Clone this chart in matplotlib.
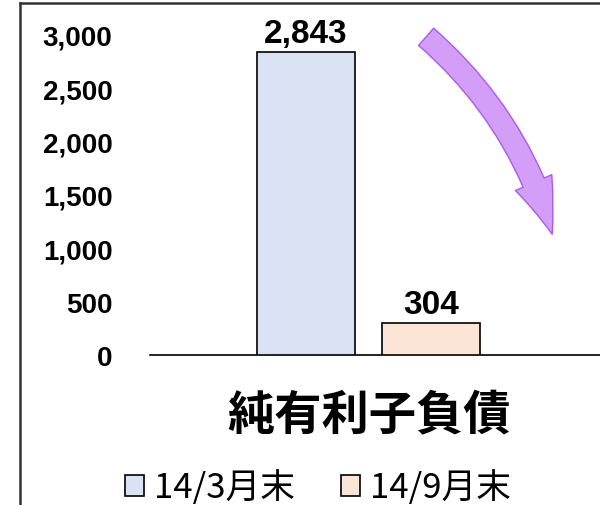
import matplotlib
matplotlib.use("Agg")
import matplotlib.pyplot as plt
from matplotlib.lines import Line2D
from matplotlib.patches import FancyArrowPatch

plt.rcParams['font.family'] = ['Noto Sans CJK JP', 'DejaVu Sans']

category = "純有利子負債"
series = ["14/3月末", "14/9月末"]
values = [2843, 304]
colors = ["#DAE3F3", "#FBE5D6"]
yticks = [0, 500, 1000, 1500, 2000, 2500, 3000]

W, H = 600, 506
fig = plt.figure(figsize=(W / 100, H / 100), dpi=100)
ax = fig.add_axes([150 / W, (H - 356) / H, 450 / W, 320 / H])

offsets = [-0.5, 0.5]
for i, (name, v) in enumerate(zip(series, values)):
    ax.bar(offsets[i], v, width=0.784, color=colors[i], edgecolor="black",
           linewidth=1.2, label=name, zorder=3)
    ax.annotate(f"{v:,}", (offsets[i], v), xytext=(0, 2), textcoords="offset points",
                ha="center", va="bottom", fontsize=24, fontweight="bold",
                family=["Liberation Sans", "DejaVu Sans"], clip_on=False)

ax.set_xlim(-1.748, 1.852)
ax.set_ylim(0, 3000)
ax.set_yticks(yticks)
ax.set_yticklabels([f"{t:,}" for t in yticks], family=["Liberation Sans", "DejaVu Sans"],
                   fontsize=20, fontweight="bold")
ax.set_xticks([0])
ax.set_xticklabels([category], fontsize=34, fontweight="bold")
ax.tick_params(axis="y", length=0, pad=27)
ax.tick_params(axis="x", length=0, pad=26)
for s in ["left", "right", "top"]:
    ax.spines[s].set_visible(False)
ax.spines["bottom"].set_linewidth(1.2)

leg = fig.legend(loc="center", bbox_to_anchor=(318 / W, 1 - 489 / H), ncol=2, frameon=False,
                 fontsize=25, handlelength=0.55, handleheight=0.55, handletextpad=0.3,
                 columnspacing=1.3)

# page frame (left and top edges)
fig.add_artist(Line2D([20 / W, 20 / W], [0, 1 - 4 / H], transform=fig.transFigure,
                      color="#333333", linewidth=1.8))
fig.add_artist(Line2D([20 / W, 1], [1 - 4 / H, 1 - 4 / H], transform=fig.transFigure,
                      color="#333333", linewidth=1.8))

# decorative downward arrow
arrow = FancyArrowPatch((424 / W, 1 - 36 / H), (553 / W, 1 - 238 / H),
                        transform=fig.transFigure, connectionstyle="arc3,rad=-0.15",
                        arrowstyle="simple,head_width=1.3,head_length=1.8,tail_width=0.75",
                        mutation_scale=22, facecolor="#CF94F7", edgecolor="#A64DEB",
                        linewidth=1, alpha=0.9)
fig.patches.append(arrow)

fig.savefig("out.png", dpi=100)
